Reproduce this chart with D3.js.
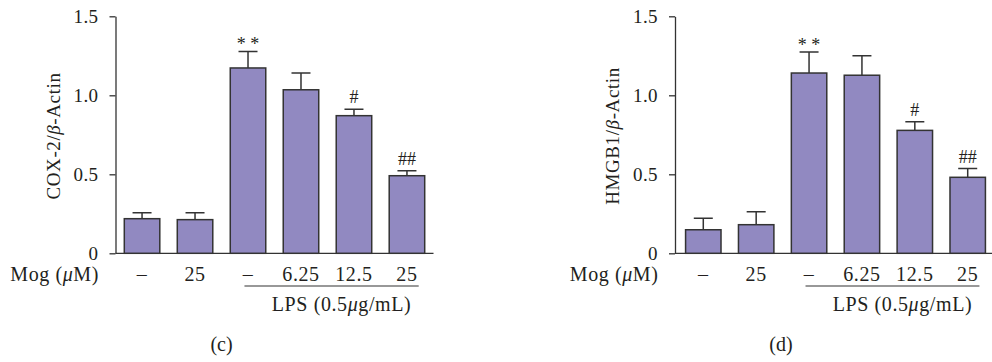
<!DOCTYPE html>
<html>
<head>
<meta charset="utf-8">
<script src="https://cdn.jsdelivr.net/npm/d3@7"></script>
<style>
  body { margin: 0; background: #fff; }
  svg text { font-family: "Liberation Serif", "Times New Roman", serif; fill: #231f20; }
</style>
</head>
<body>
<div id="chart"></div>
<script>
// values
var categories = ["\u2013", "25", "\u2013", "6.25", "12.5", "25"];
var coxMean = [0.219, 0.213, 1.173, 1.035, 0.871, 0.491];
var coxErr  = [0.038, 0.044, 0.105, 0.106, 0.040, 0.032];
var hmgbMean = [0.149, 0.181, 1.141, 1.127, 0.778, 0.481];
var hmgbErr  = [0.073, 0.082, 0.133, 0.124, 0.055, 0.055];
var sigMarks = ["", "", "* *", "", "#", "##"];
var yTicks = [0, 0.5, 1.0, 1.5];
var yTickLabels = ["0", "0.5", "1.0", "1.5"];

var W = 992, H = 362;
var barFill = "#9189c1", ink = "#333";

var svg = d3.select("#chart").append("svg")
    .attr("width", W)
    .attr("height", H);

var y = d3.scaleLinear().domain([0, 1.5]).range([253.3, 16.3]);

function drawPanel(opts){
    var g = svg.append("g");
    var axisX = opts.axisX;

    var x = d3.scaleBand()
        .domain(d3.range(categories.length))
        .range([axisX, opts.rangeEnd])
        .paddingInner(0.33)
        .paddingOuter(opts.outer);
    var bw = x.bandwidth();

    // y axis
    var yAxis = d3.axisLeft(y)
        .tickValues(yTicks)
        .tickFormat(function(d, i){ return yTickLabels[i]; })
        .tickSize(6)
        .tickSizeOuter(0)
        .tickPadding(11);
    var ya = g.append("g")
        .attr("transform", "translate(" + axisX + ",0)")
        .call(yAxis);
    ya.selectAll("path, line").attr("stroke", ink).attr("stroke-width", 1.3);
    ya.selectAll("text")
        .style("font-size", "19px")
        .style("letter-spacing", "0.4px")
        .attr("fill", "#231f20");

    // baseline
    g.append("line")
        .attr("x1", axisX).attr("x2", opts.rangeEnd)
        .attr("y1", y(0)).attr("y2", y(0))
        .attr("stroke", ink).attr("stroke-width", 1.3);

    var data = opts.mean.map(function(m, i){
        return {i: i, mean: m, err: opts.err[i], mark: sigMarks[i]};
    });

    // error bars (drawn first so the bar covers the lower half)
    g.selectAll(".err").data(data).enter().append("path")
        .attr("class", "err")
        .attr("fill", "none")
        .attr("stroke", ink)
        .attr("stroke-width", 1.5)
        .attr("d", function(d){
            var cx = x(d.i) + bw / 2, top = y(d.mean + d.err);
            return "M" + cx + "," + y(d.mean) + "V" + top +
                   "M" + (cx - 9.5) + "," + top + "H" + (cx + 9.5);
        });

    g.selectAll(".bar").data(data).enter().append("rect")
        .attr("class", "bar")
        .attr("x", function(d){ return x(d.i); })
        .attr("y", function(d){ return y(d.mean); })
        .attr("width", bw)
        .attr("height", function(d){ return y(0) - y(d.mean); })
        .attr("fill", barFill)
        .attr("stroke", ink)
        .attr("stroke-width", 1.5);

    // significance marks
    g.selectAll(".sig").data(data.filter(function(d){ return d.mark; })).enter()
        .append("text")
        .attr("class", "sig")
        .attr("x", function(d){ return x(d.i) + bw / 2; })
        .attr("y", function(d){ return y(d.mean + d.err) - (d.mark.indexOf("*") >= 0 ? 1 : 6); })
        .attr("text-anchor", "middle")
        .style("font-size", "18px")
        .text(function(d){ return d.mark; });

    // category labels
    g.selectAll(".cat").data(categories).enter().append("text")
        .attr("class", "cat")
        .attr("x", function(d, i){ return x(i) + bw / 2; })
        .attr("y", 281)
        .attr("text-anchor", "middle")
        .style("font-size", "20px")
        .style("letter-spacing", "0.6px")
        .text(function(d){ return d; });

    var mog = g.append("text")
        .attr("x", axisX - 16.5)
        .attr("y", 281)
        .attr("text-anchor", "end")
        .style("font-size", "20px")
        .style("letter-spacing", "0.6px");
    mog.append("tspan").text("Mog (");
    mog.append("tspan").style("font-style", "italic").text("\u03bc");
    mog.append("tspan").text("M)");

    // LPS bracket
    var lx1 = x(2) + bw * 0.4, lx2 = x(5) + bw - 6;
    g.append("line")
        .attr("x1", lx1).attr("x2", lx2)
        .attr("y1", 286).attr("y2", 286)
        .attr("stroke", ink).attr("stroke-width", 1.2);
    var lps = g.append("text")
        .attr("x", (lx1 + lx2) / 2 + 10)
        .attr("y", 311)
        .attr("text-anchor", "middle")
        .style("font-size", "20px")
        .style("letter-spacing", "0.6px");
    lps.append("tspan").text("LPS (0.5");
    lps.append("tspan").style("font-style", "italic").text("\u03bc");
    lps.append("tspan").text("g/mL)");

    // y title
    var yt = g.append("text")
        .attr("transform", "translate(" + (axisX - 56) + ",136) rotate(-90)")
        .attr("text-anchor", "middle")
        .style("font-size", "19px")
        .style("letter-spacing", "0.6px");
    yt.append("tspan").text(opts.title + "/");
    yt.append("tspan").style("font-style", "italic").text("\u03b2");
    yt.append("tspan").text("-Actin");

    // panel letter
    g.append("text")
        .attr("x", axisX + 106)
        .attr("y", 351)
        .attr("text-anchor", "middle")
        .style("font-size", "20px")
        .text(opts.letter);
}

drawPanel({axisX: 115.5, rangeEnd: 433.5, outer: 0.166,
           mean: coxMean, err: coxErr, title: "COX-2", letter: "(c)"});
drawPanel({axisX: 675, rangeEnd: 996, outer: 0.2,
           mean: hmgbMean, err: hmgbErr, title: "HMGB1", letter: "(d)"});
</script>
</body>
</html>
